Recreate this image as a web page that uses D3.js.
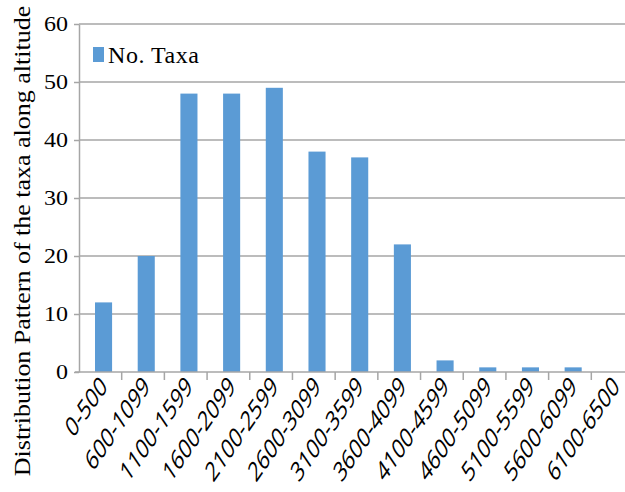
<!DOCTYPE html>
<html>
<head>
<meta charset="utf-8">
<script src="https://cdn.jsdelivr.net/npm/d3@7"></script>
<style>
  body { margin: 0; background: #fff; }
  svg { display: block; }
</style>
</head>
<body>
<div id="chart"></div>
<script>
// altitude classes and number of taxa
const categories = ["0-500", "600-1099", "1100-1599", "1600-2099", "2100-2599", "2600-3099",
                    "3100-3599", "3600-4099", "4100-4599", "4600-5099", "5100-5599", "5600-6099", "6100-6500"];
const taxa = [12, 20, 48, 48, 49, 38, 37, 22, 2, 0.8, 0.8, 0.8, 0];
const yTicks = [0, 10, 20, 30, 40, 50, 60];

const W = 625, H = 492;
const margin = { top: 24, right: -9, bottom: 120, left: 79 },
      width = W - margin.left - margin.right,
      height = H - margin.top - margin.bottom;

const svg = d3.select("#chart")
    .append("svg")
        .attr("width", W)
        .attr("height", H)
    .append("g")
        .attr("transform", `translate(${margin.left},${margin.top})`);

// one slot per category, ticks sit on slot boundaries
const x = d3.scaleBand()
    .domain(categories)
    .range([0, width])
    .padding(0);

const step = x.bandwidth();
const barW = step * 0.4;

const y = d3.scaleLinear()
    .domain([0, 60])
    .range([height, 0]);

const gray = "#a6a6a6";

// gridlines
svg.append("g")
    .selectAll("line")
    .data(yTicks.slice(1))
    .join("line")
        .attr("x1", 0)
        .attr("x2", width)
        .attr("y1", d => y(d))
        .attr("y2", d => y(d))
        .attr("stroke", gray)
        .attr("stroke-width", 1.5);

// bars
svg.append("g")
    .selectAll("rect")
    .data(categories)
    .join("rect")
        .attr("x", d => x(d) + step * 0.375)
        .attr("y", (d, i) => y(taxa[i]))
        .attr("width", barW)
        .attr("height", (d, i) => height - y(taxa[i]))
        .attr("fill", "#5b9bd5");

// y axis
const yAxis = svg.append("g")
    .call(d3.axisLeft(y).tickValues(yTicks).tickSize(5).tickSizeOuter(0).tickPadding(0));
yAxis.select(".domain").attr("stroke", gray).attr("stroke-width", 1.5);
yAxis.selectAll(".tick line").attr("stroke", gray).attr("stroke-width", 1.5);
yAxis.selectAll("text")
    .attr("x", -11 / 1.2)
    .attr("transform", "scale(1.2,1)")
    .style("font-family", "'Liberation Serif', 'Times New Roman', serif")
    .style("font-size", "20px")
    .attr("fill", "#000");

// x axis
const xAxis = svg.append("g")
    .attr("transform", `translate(0,${height})`);
xAxis.append("line")
    .attr("x1", -4).attr("x2", width)
    .attr("stroke", gray).attr("stroke-width", 1.5);
xAxis.selectAll(".xtick")
    .data(categories)
    .join("line")
        .attr("class", "xtick")
        .attr("x1", d => x(d) + step)
        .attr("x2", d => x(d) + step)
        .attr("y1", 0).attr("y2", 8)
        .attr("stroke", gray).attr("stroke-width", 1.5);
xAxis.selectAll(".xlabel")
    .data(categories)
    .join("text")
        .attr("class", "xlabel")
        .attr("transform", d => `translate(${x(d) + step / 2 + 8},16) scale(1,1.45) rotate(-45)`)
        .attr("text-anchor", "end")
        .style("font-family", "'Open Sans', 'Liberation Sans', sans-serif")
        .style("font-size", "19px")
        .text(d => d);

// y axis title
svg.append("text")
    .attr("transform", `translate(${22 - margin.left},${241 - margin.top}) rotate(-90) scale(1.13,1)`)
    .attr("text-anchor", "middle")
    .attr("dy", "0.35em")
    .style("font-family", "'Liberation Serif', 'Times New Roman', serif")
    .style("font-size", "23px")
    .text("Distribution Pattern of the taxa along altitude");

// legend
const legend = svg.append("g")
    .attr("transform", `translate(${93 - margin.left},${47 - margin.top})`);
legend.append("rect")
    .attr("width", 11)
    .attr("height", 15)
    .attr("fill", "#5b9bd5");
legend.append("text")
    .attr("x", 15)
    .attr("y", 16)
    .attr("textLength", 91)
    .style("font-family", "'Liberation Serif', 'Times New Roman', serif")
    .style("font-size", "24px")
    .text("No. Taxa");
</script>
</body>
</html>
